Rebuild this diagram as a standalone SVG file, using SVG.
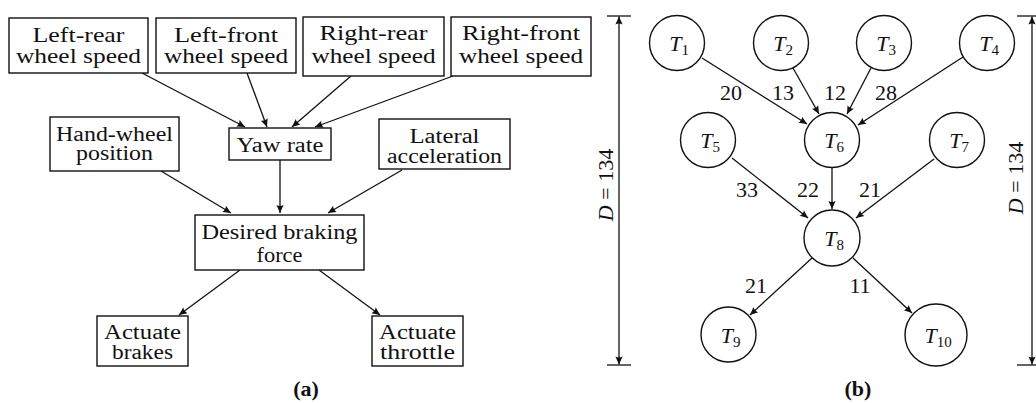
<svg xmlns="http://www.w3.org/2000/svg" width="1036" height="403" viewBox="0 0 1036 403" font-family="'Liberation Serif', 'Times New Roman', Tinos, 'Nimbus Roman', 'Noto Serif', 'DejaVu Serif', serif">
<defs>
<marker id="ah" markerUnits="userSpaceOnUse" markerWidth="12" markerHeight="10" viewBox="-10 -5 12 10" refX="0" refY="0" orient="auto">
<path d="M0,0 L-8,-3.6 Q-6,0 -8,3.6 Z" fill="#111"/>
</marker>
</defs>
<style>
.box{fill:#fff;stroke:#111;stroke-width:1.4}
.nd{fill:#fff;stroke:#111;stroke-width:1.4}
.t1{font-size:22px;fill:#111;text-anchor:middle}
.t2{font-size:20.5px;fill:#111;text-anchor:middle}
.tb{font-size:22px;fill:#111;text-anchor:middle}
.ti{font-style:italic}
.cap{font-size:22px;font-weight:bold;fill:#111;text-anchor:middle}
.e{stroke:#111;stroke-width:1.3;fill:none;marker-end:url(#ah)}
.dim{stroke:#111;stroke-width:1.3;fill:none}
</style>
<rect width="1036" height="403" fill="#fff"/>

<g id="connectors">
<line class="e" x1="142" y1="73" x2="245" y2="127"/>
<line class="e" x1="247" y1="73" x2="267" y2="127"/>
<line class="e" x1="351" y1="76" x2="292" y2="127"/>
<line class="e" x1="453" y1="76" x2="315" y2="127"/>
<line class="e" x1="161" y1="171" x2="231" y2="213"/>
<line class="e" x1="280" y1="160" x2="280" y2="213"/>
<line class="e" x1="402" y1="170" x2="328" y2="213"/>
<line class="e" x1="240" y1="270" x2="179" y2="315"/>
<line class="e" x1="319" y1="270" x2="380" y2="315"/>

<line class="e" x1="702" y1="58" x2="807" y2="124"/>
<line class="e" x1="793" y1="68" x2="819" y2="114"/>
<line class="e" x1="871" y1="68" x2="847" y2="114"/>
<line class="e" x1="963" y1="57" x2="858" y2="125"/>
<line class="e" x1="732" y1="158" x2="808" y2="218"/>
<line class="e" x1="832" y1="167" x2="832" y2="209"/>
<line class="e" x1="934" y1="159" x2="856" y2="218"/>
<line class="e" x1="812" y1="258" x2="750" y2="315"/>
<line class="e" x1="853" y1="258" x2="912" y2="313"/>
<g class="tb">
<text x="731" y="100">20</text>
<text x="783" y="100">13</text>
<text x="835" y="100">12</text>
<text x="886" y="100">28</text>
<text x="747" y="197">33</text>
<text x="808" y="197">22</text>
<text x="870" y="197">21</text>
<text x="756" y="293">21</text>
<text x="860" y="293">11</text>
</g>
</g>

<g id="lr"><rect class="box" x="9" y="18" width="139" height="55"/>
<text class="t1" x="78.5" y="42" textLength="92" lengthAdjust="spacingAndGlyphs">Left-rear</text>
<text class="t1" x="78.5" y="63" textLength="125" lengthAdjust="spacingAndGlyphs">wheel speed</text></g>
<g id="lf"><rect class="box" x="156" y="18" width="140" height="55"/>
<text class="t1" x="226" y="42" textLength="104" lengthAdjust="spacingAndGlyphs">Left-front</text>
<text class="t1" x="226" y="63" textLength="124" lengthAdjust="spacingAndGlyphs">wheel speed</text></g>
<g id="rr"><rect class="box" x="303" y="17" width="141" height="59"/>
<text class="t1" x="373.5" y="40" textLength="108" lengthAdjust="spacingAndGlyphs">Right-rear</text>
<text class="t1" x="373.5" y="63" textLength="124" lengthAdjust="spacingAndGlyphs">wheel speed</text></g>
<g id="rf"><rect class="box" x="451" y="17" width="140" height="59"/>
<text class="t1" x="521" y="40" textLength="118" lengthAdjust="spacingAndGlyphs">Right-front</text>
<text class="t1" x="521" y="63" textLength="124" lengthAdjust="spacingAndGlyphs">wheel speed</text></g>

<g id="hw"><rect class="box" x="50" y="117" width="129" height="54"/>
<text class="t2" x="114.5" y="141" textLength="117" lengthAdjust="spacingAndGlyphs">Hand-wheel</text>
<text class="t2" x="114.5" y="160" textLength="77" lengthAdjust="spacingAndGlyphs">position</text></g>
<g id="yaw"><rect class="box" x="229" y="128" width="102" height="32"/>
<text class="t2" x="280" y="152" textLength="87" lengthAdjust="spacingAndGlyphs">Yaw rate</text></g>
<g id="lat"><rect class="box" x="379" y="119" width="131" height="50"/>
<text class="t2" x="444.5" y="143" textLength="70" lengthAdjust="spacingAndGlyphs">Lateral</text>
<text class="t2" x="444.5" y="163" textLength="115" lengthAdjust="spacingAndGlyphs">acceleration</text></g>
<g id="dbf"><rect class="box" x="195" y="215" width="169" height="55"/>
<text class="t2" x="279.5" y="239" textLength="156" lengthAdjust="spacingAndGlyphs">Desired braking</text>
<text class="t2" x="279.5" y="262" textLength="46" lengthAdjust="spacingAndGlyphs">force</text></g>
<g id="ab"><rect class="box" x="97" y="316" width="91" height="50"/>
<text class="t2" x="142.5" y="339" textLength="77" lengthAdjust="spacingAndGlyphs">Actuate</text>
<text class="t2" x="142.5" y="359" textLength="61" lengthAdjust="spacingAndGlyphs">brakes</text></g>
<g id="at"><rect class="box" x="372" y="316" width="91" height="50"/>
<text class="t2" x="417.5" y="339" textLength="77" lengthAdjust="spacingAndGlyphs">Actuate</text>
<text class="t2" x="417.5" y="359" textLength="75" lengthAdjust="spacingAndGlyphs">throttle</text></g>
<text class="cap" x="306" y="396">(a)</text>

<g id="T1"><circle class="nd" cx="677" cy="43" r="27.5"/><text class="tb" x="679" y="51"><tspan class="ti">T</tspan><tspan font-size="15" dy="4">1</tspan></text></g>
<g id="T2"><circle class="nd" cx="781" cy="43" r="27.5"/><text class="tb" x="783" y="51"><tspan class="ti">T</tspan><tspan font-size="15" dy="4">2</tspan></text></g>
<g id="T3"><circle class="nd" cx="884" cy="43" r="27.5"/><text class="tb" x="886" y="51"><tspan class="ti">T</tspan><tspan font-size="15" dy="4">3</tspan></text></g>
<g id="T4"><circle class="nd" cx="987" cy="43" r="27.5"/><text class="tb" x="989" y="51"><tspan class="ti">T</tspan><tspan font-size="15" dy="4">4</tspan></text></g>
<g id="T5"><circle class="nd" cx="708" cy="140" r="27.5"/><text class="tb" x="710" y="148"><tspan class="ti">T</tspan><tspan font-size="15" dy="4">5</tspan></text></g>
<g id="T6"><circle class="nd" cx="832" cy="140" r="27.5"/><text class="tb" x="834" y="148"><tspan class="ti">T</tspan><tspan font-size="15" dy="4">6</tspan></text></g>
<g id="T7"><circle class="nd" cx="957" cy="140" r="27.5"/><text class="tb" x="959" y="148"><tspan class="ti">T</tspan><tspan font-size="15" dy="4">7</tspan></text></g>
<g id="T8"><circle class="nd" cx="832" cy="238" r="28"/><text class="tb" x="834" y="246"><tspan class="ti">T</tspan><tspan font-size="15" dy="4">8</tspan></text></g>
<g id="T9"><circle class="nd" cx="728.5" cy="334.5" r="27.5"/><text class="tb" x="730.5" y="342.5"><tspan class="ti">T</tspan><tspan font-size="15" dy="4">9</tspan></text></g>
<g id="T10"><circle class="nd" cx="936" cy="335" r="31"/><text class="tb" x="938" y="343"><tspan class="ti">T</tspan><tspan font-size="15" dy="4">10</tspan></text></g>

<g id="dimL">
<line class="dim" x1="607" y1="16" x2="631" y2="16"/>
<line class="dim" x1="607" y1="365" x2="631" y2="365"/>
<line class="e" x1="619" y1="190" x2="619" y2="16.5"/>
<line class="e" x1="619" y1="190" x2="619" y2="364.5"/>
<text class="tb" font-size="21" transform="translate(613,185) rotate(-90)"><tspan class="ti">D</tspan> = 134</text>
</g>
<g id="dimR">
<line class="dim" x1="1017" y1="16" x2="1040" y2="16"/>
<line class="dim" x1="1017" y1="365" x2="1040" y2="365"/>
<line class="e" x1="1032" y1="190" x2="1032" y2="16.5"/>
<line class="e" x1="1032" y1="190" x2="1032" y2="364.5"/>
<text class="tb" transform="translate(1023,178) rotate(-90)"><tspan class="ti">D</tspan> = 134</text>
</g>
<text class="cap" x="858" y="396">(b)</text>
</svg>
